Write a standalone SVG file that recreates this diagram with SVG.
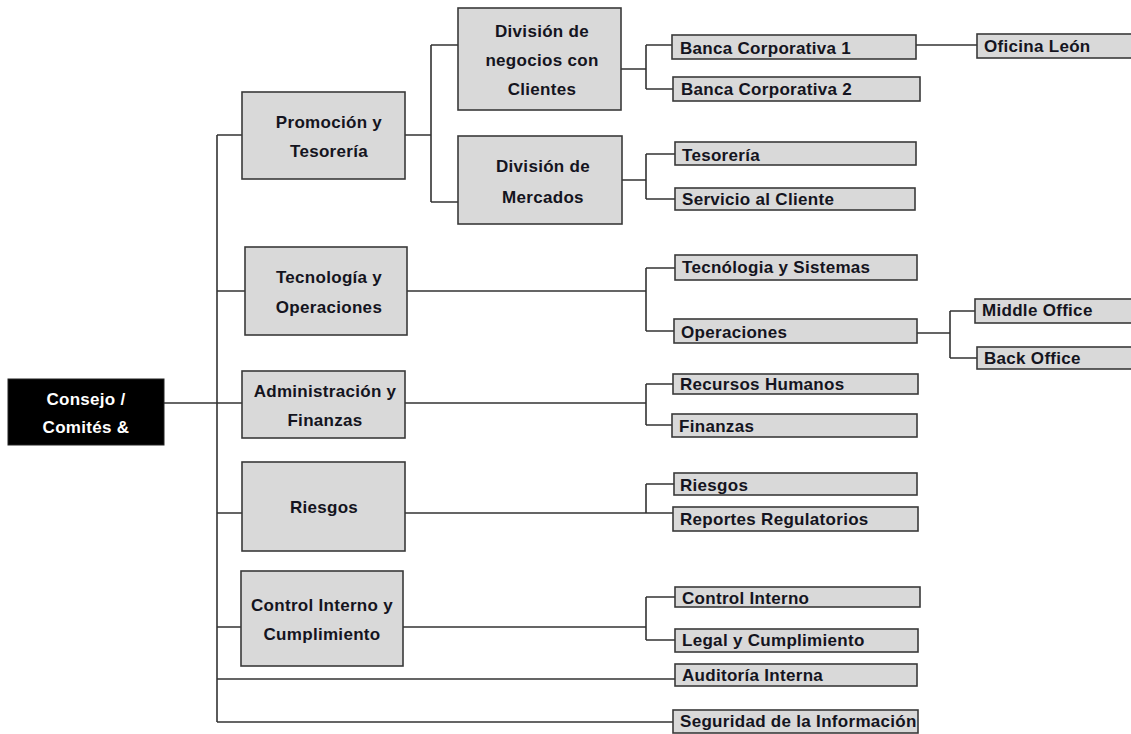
<svg xmlns="http://www.w3.org/2000/svg" width="1131" height="734" viewBox="0 0 1131 734">
<style>
.b{fill:#d9d9d9;stroke:#3a3a3a;stroke-width:1.6}
.r{fill:#000;stroke:#222;stroke-width:1}
.t{font-family:"Liberation Sans",Arial,sans-serif;font-size:17px;letter-spacing:0.3px;font-weight:bold;fill:#141420}
.c{text-anchor:middle}
.w{fill:#fff}
.ln{fill:none;stroke:#333;stroke-width:1.6}
</style>
<rect width="1131" height="734" fill="#fff"/>
<g id="connectors" class="ln">
<path d="M164 403H242"/>
<path d="M217 135V722"/>
<path d="M217 135H242M217 291H245M217 513H242M217 627H241M217 679H675M217 722H673"/>
<path d="M405 135H431M431 45V202M431 45H458M431 202H458"/>
<path d="M621 69H646M646 45V89M646 45H672M646 89H673"/>
<path d="M916 45H977"/>
<path d="M622 180H646M646 154V199M646 154H675M646 199H675"/>
<path d="M407 291H646M646 268V331M646 268H675M646 331H674"/>
<path d="M917 333H950M950 311V358M950 311H975M950 358H977"/>
<path d="M405 403H646M646 384V425M646 384H673M646 425H672"/>
<path d="M405 513H673M646 484V513M646 484H674"/>
<path d="M403 627H646M646 597V640M646 597H675M646 640H675"/>
</g>
<g id="n-consejo"><rect class="r" x="8" y="379" width="156" height="66"/><text class="t c w" x="86" y="405">Consejo /</text><text class="t c w" x="86" y="433">Comités &amp;</text></g>
<g id="n-promocion"><rect class="b" x="242" y="92" width="163" height="87"/><text class="t c" x="329" y="128">Promoción y</text><text class="t c" x="329" y="157">Tesorería</text></g>
<g id="n-tecnologia"><rect class="b" x="245" y="247" width="162" height="88"/><text class="t c" x="329" y="283">Tecnología y</text><text class="t c" x="329" y="313">Operaciones</text></g>
<g id="n-administracion"><rect class="b" x="242" y="371" width="163" height="67"/><text class="t c" x="325" y="397">Administración y</text><text class="t c" x="325" y="426">Finanzas</text></g>
<g id="n-riesgos"><rect class="b" x="242" y="462" width="163" height="89"/><text class="t c" x="324" y="513">Riesgos</text></g>
<g id="n-control"><rect class="b" x="241" y="571" width="162" height="95"/><text class="t c" x="322" y="611">Control Interno y</text><text class="t c" x="322" y="640">Cumplimiento</text></g>
<g id="n-div-negocios"><rect class="b" x="458" y="8" width="163" height="102"/><text class="t c" x="542" y="37">División de</text><text class="t c" x="542" y="66">negocios con</text><text class="t c" x="542" y="95">Clientes</text></g>
<g id="n-div-mercados"><rect class="b" x="458" y="136" width="164" height="88"/><text class="t c" x="543" y="172">División de</text><text class="t c" x="543" y="203">Mercados</text></g>
<g id="n-banca1"><rect class="b" x="672" y="35" width="244" height="24"/><text class="t" x="680" y="54">Banca Corporativa 1</text></g>
<g id="n-banca2"><rect class="b" x="673" y="77" width="247" height="24"/><text class="t" x="681" y="95">Banca Corporativa 2</text></g>
<g id="n-oficina"><rect class="b" x="977" y="34" width="156" height="24"/><text class="t" x="984" y="52">Oficina León</text></g>
<g id="n-tesoreria"><rect class="b" x="675" y="142" width="241" height="23"/><text class="t" x="682" y="161">Tesorería</text></g>
<g id="n-servicio"><rect class="b" x="675" y="188" width="240" height="22"/><text class="t" x="682" y="205">Servicio al Cliente</text></g>
<g id="n-tec-sistemas"><rect class="b" x="675" y="255" width="242" height="25"/><text class="t" x="682" y="273">Tecnólogia y Sistemas</text></g>
<g id="n-operaciones"><rect class="b" x="674" y="319" width="243" height="24"/><text class="t" x="681" y="338">Operaciones</text></g>
<g id="n-middle"><rect class="b" x="975" y="299" width="158" height="24"/><text class="t" x="982" y="316">Middle Office</text></g>
<g id="n-back"><rect class="b" x="977" y="347" width="156" height="22"/><text class="t" x="984" y="364">Back Office</text></g>
<g id="n-rrhh"><rect class="b" x="673" y="374" width="245" height="20"/><text class="t" x="680" y="390">Recursos Humanos</text></g>
<g id="n-finanzas"><rect class="b" x="672" y="414" width="245" height="23"/><text class="t" x="679" y="432">Finanzas</text></g>
<g id="n-riesgos2"><rect class="b" x="674" y="473" width="243" height="22"/><text class="t" x="680" y="491">Riesgos</text></g>
<g id="n-reportes"><rect class="b" x="673" y="507" width="245" height="24"/><text class="t" x="680" y="525">Reportes Regulatorios</text></g>
<g id="n-control2"><rect class="b" x="675" y="587" width="245" height="20"/><text class="t" x="682" y="604">Control Interno</text></g>
<g id="n-legal"><rect class="b" x="675" y="629" width="243" height="23"/><text class="t" x="682" y="646">Legal y Cumplimiento</text></g>
<g id="n-auditoria"><rect class="b" x="675" y="664" width="242" height="22"/><text class="t" x="682" y="681">Auditoría Interna</text></g>
<g id="n-seguridad"><rect class="b" x="673" y="710" width="245" height="23"/><text class="t" x="680" y="727">Seguridad de la Información</text></g>
</svg>
